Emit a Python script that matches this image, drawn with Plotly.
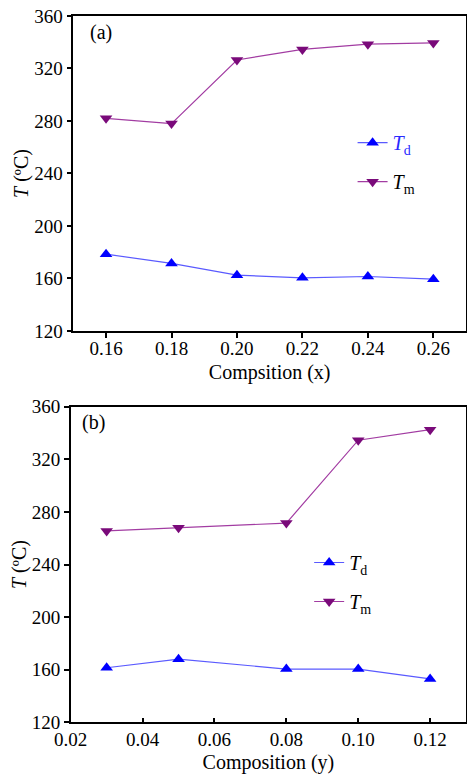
import plotly.graph_objects as go

# Panel (a): transition temperatures vs composition x
comp_x = [0.16, 0.18, 0.20, 0.22, 0.24, 0.26]
td_a = [178.5, 171.5, 162.5, 160.5, 161.5, 159.5]
tm_a = [282, 278, 326.5, 334.5, 338.5, 339.5]

# Panel (b): transition temperatures vs composition y
comp_y = [0.03, 0.05, 0.08, 0.10, 0.12]
td_b = [161.5, 168, 160.5, 160.5, 153]
tm_b = [265.5, 268, 271.5, 334.5, 342.5]

x_ticks_a = [0.16, 0.18, 0.20, 0.22, 0.24, 0.26]
x_ticks_b = [0.02, 0.04, 0.06, 0.08, 0.10, 0.12]
y_ticks = [120, 160, 200, 240, 280, 320, 360]

FONT = "Liberation Serif, Times New Roman, serif"
TD_LINE, TD_MARK = "#5a5aff", "#0000ff"
TM_LINE, TM_MARK = "#a23ca2", "#7a0a7a"
MSIZE = 11

TD_NAME_A = "<span style='color:#2a2aff'><i>T</i><sub>d</sub></span>"
TD_NAME = "<i>T</i><sub>d</sub>"
TM_NAME = "<i>T</i><sub>m</sub>"

fig = go.Figure()

fig.add_trace(go.Scatter(x=comp_x, y=td_a, mode="lines+markers", name=TD_NAME_A,
                         line=dict(color=TD_LINE, width=1.2),
                         marker=dict(symbol="triangle-up", size=MSIZE, color=TD_MARK),
                         xaxis="x", yaxis="y", legend="legend", legendgroup="a1"))
fig.add_trace(go.Scatter(x=comp_x, y=tm_a, mode="lines+markers", name=TM_NAME,
                         line=dict(color=TM_LINE, width=1.2),
                         marker=dict(symbol="triangle-down", size=MSIZE, color=TM_MARK),
                         xaxis="x", yaxis="y", legend="legend", legendgroup="a2"))
fig.add_trace(go.Scatter(x=comp_y, y=td_b, mode="lines+markers", name=TD_NAME,
                         line=dict(color=TD_LINE, width=1.2),
                         marker=dict(symbol="triangle-up", size=MSIZE, color=TD_MARK),
                         xaxis="x2", yaxis="y2", legend="legend2", legendgroup="b1"))
fig.add_trace(go.Scatter(x=comp_y, y=tm_b, mode="lines+markers", name=TM_NAME,
                         line=dict(color=TM_LINE, width=1.2),
                         marker=dict(symbol="triangle-down", size=MSIZE, color=TM_MARK),
                         xaxis="x2", yaxis="y2", legend="legend2", legendgroup="b2"))

axis_common = dict(showline=True, linecolor="black", linewidth=1.5, mirror=True,
                   showgrid=False, zeroline=False, ticklen=5, tickwidth=1.5,
                   automargin=False,
                   tickcolor="black", tickfont=dict(family=FONT, size=19, color="black"))
TITLE_FONT = dict(family=FONT, size=20, color="black")

fig.update_layout(
    width=467, height=776,
    margin=dict(l=0, r=0, t=0, b=0),
    paper_bgcolor="white", plot_bgcolor="white",
    font=dict(family=FONT, color="black"),
    xaxis=dict(domain=[0.157, 0.998], range=[0.15, 0.27], tickvals=x_ticks_a,
               ticktext=[f"{v:.2f}" for v in x_ticks_a], ticks="outside",
               ticklabelstandoff=-6,
               title=dict(text="Compsition (x)", font=TITLE_FONT, standoff=7),
               anchor="y", **axis_common),
    yaxis=dict(domain=[0.5735, 0.9794], range=[120, 360], tickvals=y_ticks, ticks="outside",
               title=dict(text="<i>T</i> (ºC)", font=TITLE_FONT, standoff=0),
               anchor="x", **axis_common),
    xaxis2=dict(domain=[0.1514, 0.998], range=[0.02, 0.13], tickvals=x_ticks_b,
                ticktext=[f"{v:.2f}" for v in x_ticks_b], ticks="inside",
                ticklabelstandoff=-1,
                title=dict(text="Composition (y)", font=TITLE_FONT, standoff=6),
                anchor="y2", **axis_common),
    yaxis2=dict(domain=[0.0692, 0.4759], range=[120, 360], tickvals=y_ticks, ticks="outside",
                title=dict(text="<i>T</i> (ºC)", font=TITLE_FONT, standoff=0),
                anchor="x2", **axis_common),
    legend=dict(x=0.755, y=0.791, xanchor="left", yanchor="middle",
                bgcolor="rgba(0,0,0,0)", font=dict(family=FONT, size=20),
                traceorder="grouped", tracegroupgap=10, itemwidth=30),
    legend2=dict(x=0.662, y=0.25, xanchor="left", yanchor="middle",
                 bgcolor="rgba(0,0,0,0)", font=dict(family=FONT, size=20),
                 traceorder="grouped", tracegroupgap=10, itemwidth=30),
    showlegend=True,
    annotations=[
        dict(text="(a)", x=0.188, y=0.9575, xref="paper", yref="paper", showarrow=False,
             xanchor="left", yanchor="middle", font=dict(family=FONT, size=20)),
        dict(text="(b)", x=0.172, y=0.455, xref="paper", yref="paper", showarrow=False,
             xanchor="left", yanchor="middle", font=dict(family=FONT, size=20)),
    ],
)

fig.write_html("out.html")
